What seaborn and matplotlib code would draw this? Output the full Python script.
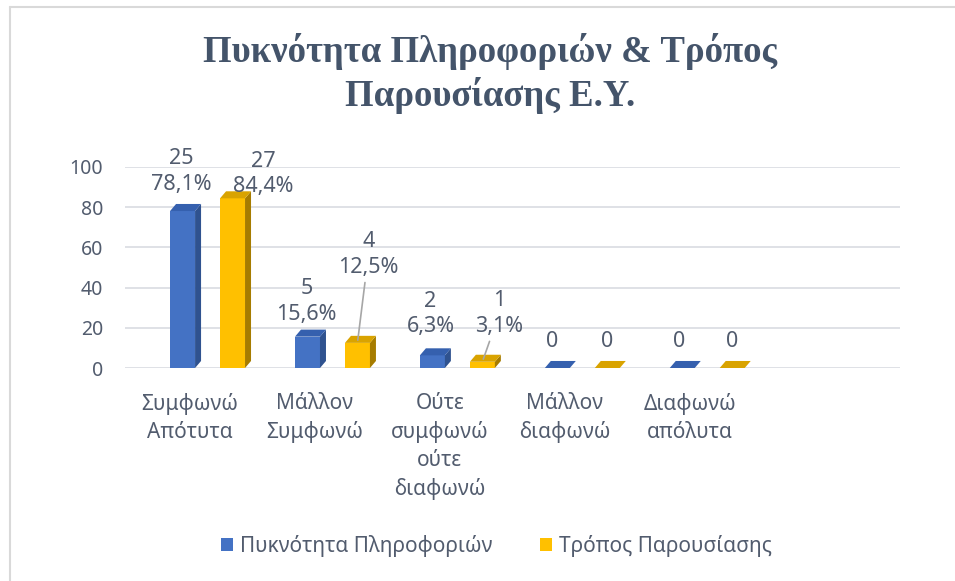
import numpy as np
import pandas as pd
import matplotlib
matplotlib.use("Agg")
import matplotlib.pyplot as plt
import seaborn as sns
from matplotlib.patches import Polygon
from matplotlib.lines import Line2D

# ---------------- data ----------------
categories = ["Συμφωνώ\nΑπότυτα", "Μάλλον\nΣυμφωνώ", "Ούτε\nσυμφωνώ\nούτε\nδιαφωνώ",
              "Μάλλον\nδιαφωνώ", "Διαφωνώ\nαπόλυτα"]
series_names = ["Πυκνότητα Πληροφοριών", "Τρόπος Παρουσίασης"]
density_pct = [78.1, 15.6, 6.3, 0, 0]
presentation_pct = [84.4, 12.5, 3.1, 0, 0]
density_count = [25, 5, 2, 0, 0]
presentation_count = [27, 4, 1, 0, 0]
yticks = [0, 20, 40, 60, 80, 100]
title = "Πυκνότητα Πληροφοριών & Τρόπος\nΠαρουσίασης Ε.Υ."

df = pd.DataFrame({
    "category": categories * 2,
    "series": [series_names[0]] * 5 + [series_names[1]] * 5,
    "value": density_pct + presentation_pct,
})

# ---------------- style ----------------
sns.set_theme(style="white")
plt.rcParams["font.family"] = ["Noto Sans", "DejaVu Sans"]
TXT = "#525C6E"
face = {series_names[0]: "#4472C4", series_names[1]: "#FFC000"}
side = {series_names[0]: "#2F528F", series_names[1]: "#A67C00"}
topc = {series_names[0]: "#3560AE", series_names[1]: "#D9A300"}

fig = plt.figure(figsize=(9.55, 5.81), dpi=100)
ax = fig.add_axes([0.131, 0.3666, 0.811, 0.346])

sns.barplot(data=df, x="category", y="value", hue="series", hue_order=series_names,
            order=categories, palette=face, saturation=1, width=0.8, gap=0.5, ax=ax,
            edgecolor="none", linewidth=0, zorder=3)

ax.set_xlim(-0.66, 5.54)
ax.set_ylim(0, 100)
ax.set_yticks(yticks)
ax.set_yticklabels([str(t) for t in yticks], fontsize=14, color=TXT)
ax.set_xticks(np.arange(len(categories)) - 0.14)
ax.set_xticklabels(categories, fontsize=15, color=TXT, linespacing=1.42, va="top")
ax.tick_params(axis="x", length=0, pad=18)
ax.tick_params(axis="y", length=0, pad=16)
ax.set_xlabel("")
ax.set_ylabel("")
for s in ax.spines.values():
    s.set_visible(False)
ax.grid(axis="y", color="#D9DCE1", linewidth=1.2, zorder=0)
ax.grid(axis="x", visible=False)

# pseudo-3D sides and tops derived from the bar patches
dx, dy = 0.048, 3.5
for cont, name in zip(ax.containers, series_names):
    for p in cont.patches:
        x0 = p.get_x()
        x1 = x0 + p.get_width()
        h = p.get_height()
        if h > 0:
            ax.add_patch(Polygon([(x1, 0), (x1 + dx, dy), (x1 + dx, h + dy), (x1, h)],
                                 closed=True, facecolor=side[name], edgecolor="none", zorder=3))
        ax.add_patch(Polygon([(x0, h), (x0 + dx, h + dy), (x1 + dx, h + dy), (x1, h)],
                             closed=True, facecolor=topc[name], edgecolor="none", zorder=3))

# data labels
counts = [density_count, presentation_count]
pcts = [density_pct, presentation_pct]
offsets = [
    [(-1, 16), (-1, 12), (-2, 18), (-5, 16), (-3, 16)],
    [(31, 1), (11, 65), (17, 25), (0, 16), (0, 16)],
]
leaders = [[False] * 5, [False, True, True, False, False]]
for si, cont in enumerate(ax.containers):
    for i, p in enumerate(cont.patches):
        c = counts[si][i]
        v = pcts[si][i]
        lab = "0" if c == 0 else f"{c}\n{v:.1f}%".replace(".", ",")
        xc = p.get_x() + p.get_width() / 2
        h = p.get_height()
        kw = {}
        if leaders[si][i]:
            kw["arrowprops"] = dict(arrowstyle="-", color="#A6A6A6", lw=1.2,
                                    shrinkA=1, shrinkB=2)
        ax.annotate(lab, xy=(xc, h), xytext=offsets[si][i], textcoords="offset pixels",
                    ha="center", va="bottom", fontsize=15.5, color=TXT,
                    linespacing=1.3, zorder=5, **kw)

# legend
sns.move_legend(ax, "center", bbox_to_anchor=(0.52, 1 - 546 / 581),
                bbox_transform=fig.transFigure, ncol=2, frameon=False, title=None,
                fontsize=15, handlelength=0.55, handleheight=0.55,
                handletextpad=0.35, columnspacing=2.3)
for t in ax.get_legend().get_texts():
    t.set_color(TXT)

# title
fig.text(0.513, 1 - 73.5 / 581, title, ha="center", va="center", fontsize=26.5,
         fontweight="bold", family="Liberation Serif", color="#44546A", linespacing=1.22)

# chart border (left/top visible)
fig.add_artist(Line2D([10 / 955, 10 / 955], [0, 1 - 7 / 581], transform=fig.transFigure,
                      color="#D9D9D9", lw=1.5))
fig.add_artist(Line2D([10 / 955, 1], [1 - 7 / 581, 1 - 7 / 581], transform=fig.transFigure,
                      color="#D9D9D9", lw=1.5))

fig.savefig("out.png", dpi=100, facecolor="white")
